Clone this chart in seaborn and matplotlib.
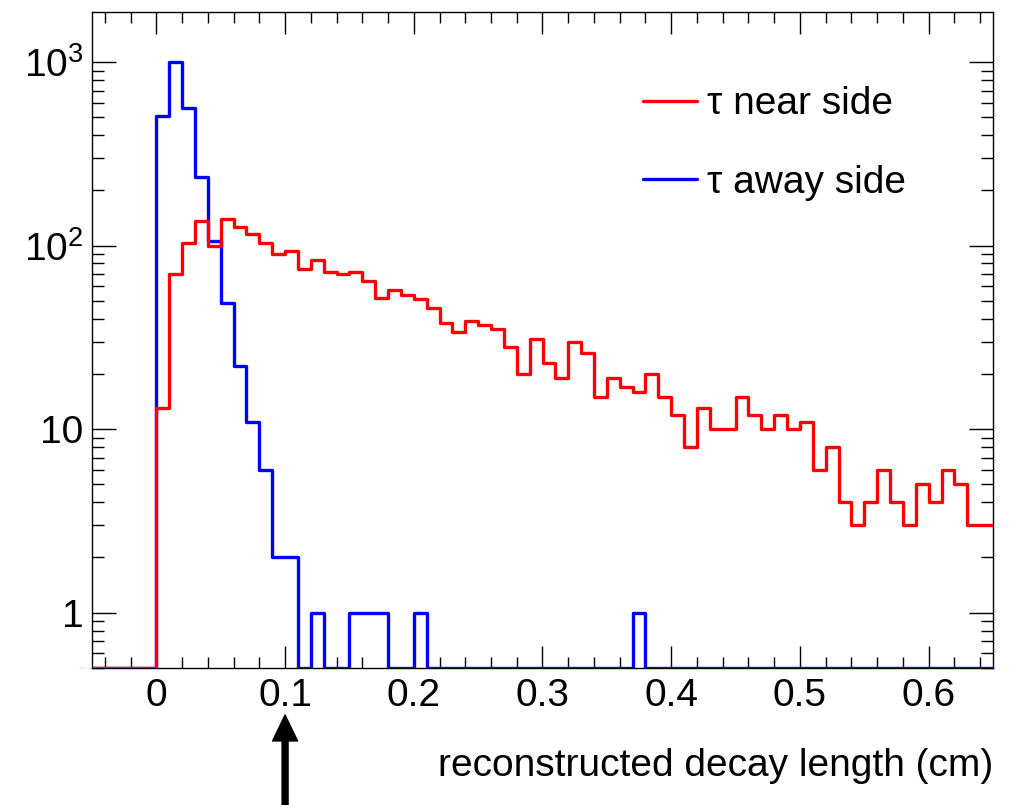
import numpy as np
import pandas as pd
import matplotlib
matplotlib.use("Agg")
import matplotlib.pyplot as plt
from matplotlib.ticker import FixedLocator, LogLocator, NullFormatter, MultipleLocator
import seaborn as sns

# ---------------- data ----------------
x_min, x_max, bin_width = -0.05, 0.65, 0.01
# bins starting at 0.00 (width 0.01); bins from -0.05 to 0 are empty
near_side_counts = [13, 70, 104, 137, 100, 140, 126, 116, 103, 90,
                    93, 75, 84, 72, 70, 72, 64, 52, 57, 54,
                    51, 46, 38, 34, 39, 37, 35, 28, 20, 31,
                    23, 19, 30, 26, 15, 19, 17, 16, 20, 15,
                    12, 8, 13, 10, 10, 15, 12, 10, 12, 10,
                    11, 6, 8, 4, 3, 4, 6, 4, 3, 5,
                    4, 6, 5, 3, 3]
away_side_counts = [510, 1000, 565, 237, 106, 49, 22, 11, 6, 2,
                    2, 0, 1, 0, 0, 1, 1, 1, 0, 0,
                    1, 0, 0, 0, 0, 0, 0, 0, 0, 0,
                    0, 0, 0, 0, 0, 0, 0, 1, 0, 0,
                    0, 0, 0, 0, 0, 0, 0, 0, 0, 0,
                    0, 0, 0, 0, 0, 0, 0, 0, 0, 0,
                    0, 0, 0, 0, 0]
n_empty_before_zero = 5
series_labels = ["\u03c4 near side", "\u03c4 away side"]
series_colors = ["#ff0000", "#0000ff"]
x_ticks = [0, 0.1, 0.2, 0.3, 0.4, 0.5, 0.6]
x_tick_labels = ["0", "0.1", "0.2", "0.3", "0.4", "0.5", "0.6"]
y_ticks = [1, 10, 100, 1000]
y_tick_labels = ["1", "10", r"$\mathregular{10^{2}}$", r"$\mathregular{10^{3}}$"]
y_min, y_max = 0.5, 1875
x_label = "reconstructed decay length (cm)"
cut_value = 0.1

# ---------------- style ----------------
sns.set_style("ticks")
plt.rcParams["font.family"] = ["Liberation Sans", "DejaVu Sans"]
plt.rcParams["mathtext.fontset"] = "custom"
plt.rcParams["mathtext.rm"] = "Liberation Sans"
plt.rcParams["mathtext.it"] = "Liberation Sans:italic"
plt.rcParams["mathtext.bf"] = "Liberation Sans:bold"
for k in ["text.color", "axes.labelcolor", "xtick.color", "ytick.color",
          "xtick.labelcolor", "ytick.labelcolor", "axes.edgecolor"]:
    plt.rcParams[k] = "black"

FS = 28

n_bins = int(round((x_max - x_min) / bin_width))
centers = x_min + bin_width * (np.arange(n_bins) + 0.5)

def full(counts):
    return np.concatenate([np.zeros(n_empty_before_zero), np.asarray(counts, float)])

df = pd.DataFrame({
    "center": np.concatenate([centers, centers]),
    "count": np.concatenate([full(near_side_counts), full(away_side_counts)]),
    "series": [series_labels[0]] * n_bins + [series_labels[1]] * n_bins,
})
# ROOT-like display: empty bins drawn along the lower frame
df["shown"] = df["count"].clip(lower=y_min)

fig = plt.figure(figsize=(10.23, 8.05), dpi=100)
ax = fig.add_axes([92 / 1023, 1 - 668 / 805, (993 - 92) / 1023, (668 - 12) / 805])

# away side first, near side on top
for lab, col in [(series_labels[1], series_colors[1]), (series_labels[0], series_colors[0])]:
    sub = df[df["series"] == lab]
    sns.histplot(data=sub, x="center", weights="shown", binwidth=bin_width,
                 binrange=(x_min, x_max),
                 element="step", fill=False, color=col, linewidth=2.4,
                 ax=ax, label=lab, zorder=3)

ax.set_yscale("log")
ax.set_xlim(x_min, x_max)
ax.set_ylim(y_min, y_max)

ax.xaxis.set_major_locator(FixedLocator(x_ticks))
ax.set_xticklabels(x_tick_labels)
ax.xaxis.set_minor_locator(MultipleLocator(0.02))
ax.yaxis.set_major_locator(FixedLocator(y_ticks))
ax.set_yticklabels(y_tick_labels)
ax.yaxis.set_minor_locator(LogLocator(base=10, subs=np.arange(2, 10)))
ax.yaxis.set_minor_formatter(NullFormatter())

ax.tick_params(axis="both", which="both", direction="in", top=True, right=True,
               width=1.0, color="black", labelcolor="black", labelsize=FS)
ax.tick_params(axis="x", which="major", length=15.5, pad=7)
ax.tick_params(axis="x", which="minor", length=8)
ax.tick_params(axis="y", which="major", length=17.5, pad=6)
ax.tick_params(axis="y", which="minor", length=8.7)

for sp in ax.spines.values():
    sp.set_color("black")
    sp.set_linewidth(1.0)

ax.set_ylabel("")
ax.set_xlabel(x_label, fontsize=FS, ha="right", color="black")
ax.xaxis.set_label_coords(1.0, -0.122)
ax.xaxis.label.set_va("top")

# legend
handles, labels = ax.get_legend_handles_labels()
order = [labels.index(series_labels[0]), labels.index(series_labels[1])]
ax.legend([handles[i] for i in order], [labels[i] for i in order],
          loc="upper left", bbox_to_anchor=(0.6115, 0.887), frameon=False,
          fontsize=FS, handlelength=1.38, handletextpad=0.26,
          labelspacing=1.10, borderpad=0, borderaxespad=0)

# cut arrow below the axis
ax.annotate("", xy=(cut_value, -0.0716), xytext=(cut_value, -0.23),
            xycoords=ax.get_xaxis_transform(), textcoords=ax.get_xaxis_transform(),
            annotation_clip=False,
            arrowprops=dict(facecolor="black", edgecolor="black", width=4.3,
                            headwidth=18, headlength=18.7, shrink=0))

fig.savefig("out.png", dpi=100)
